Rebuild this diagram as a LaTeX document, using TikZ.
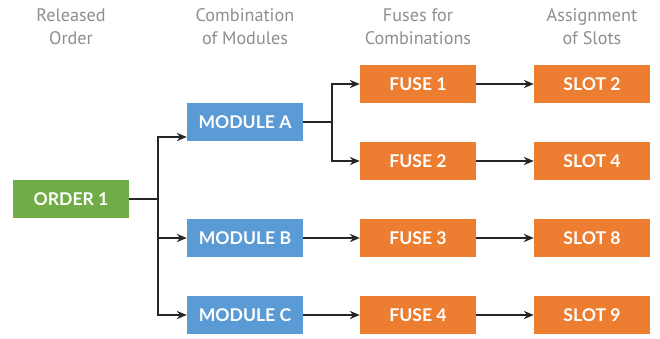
\documentclass[tikz,border=0pt]{standalone}
\usepackage{fontspec}
\setmainfont{Lato}
\newfontfamily\headfont{PT Sans}
\usetikzlibrary{arrows.meta}
\definecolor{ordgreen}{HTML}{70AD47}
\definecolor{modblue}{HTML}{5B9BD5}
\definecolor{fuseorange}{HTML}{ED7D31}
\definecolor{headgray}{HTML}{8E8E8E}
\tikzset{
  box/.style={minimum width=3.48cm, minimum height=1.14cm, inner sep=0pt, text=white, font=\fontsize{15}{18}\selectfont\bfseries},
  head/.style={align=center, text=headgray, font=\headfont\fontsize{15.5}{19.6}\selectfont},
  link/.style={draw=black!85, line width=1pt, -{Stealth[length=8.5pt,width=7pt]}}
}
\begin{document}
\begin{tikzpicture}[x=0.03cm, y=-0.03cm]
\useasboundingbox (0,0) rectangle (660,339);
\node[head] (h1) at (71,27){Released\\Order};
\node[head] (h2) at (245,27){Combination\\of Modules};
\node[head] (h3) at (418,27){Fuses for\\Combinations};
\node[head] (h4) at (592,27){Assignment\\of Slots};

\node[box, fill=ordgreen] (ord1) at (71,199){ORDER 1};
\node[box, fill=modblue] (moda) at (245,122){MODULE A};
\node[box, fill=modblue] (modb) at (245,238){MODULE B};
\node[box, fill=modblue] (modc) at (245,315){MODULE C};
\node[box, fill=fuseorange] (fuse1) at (418,84){FUSE 1};
\node[box, fill=fuseorange] (fuse2) at (418,161){FUSE 2};
\node[box, fill=fuseorange] (fuse3) at (418,238){FUSE 3};
\node[box, fill=fuseorange] (fuse4) at (418,315){FUSE 4};
\node[box, fill=fuseorange] (slot2) at (592,84){SLOT 2};
\node[box, fill=fuseorange] (slot4) at (592,161){SLOT 4};
\node[box, fill=fuseorange] (slot8) at (592,238){SLOT 8};
\node[box, fill=fuseorange] (slot9) at (592,315){SLOT 9};

\coordinate (obr) at (158,199);
\coordinate (abr) at (332,122);
\draw[link] (ord1.east) -- (obr) |- ([yshift=-0.45cm]moda.west);
\draw[link] (obr) |- (modb.west);
\draw[link] (obr) |- (modc.west);
\draw[link] (moda.east) -- (abr) |- (fuse1.west);
\draw[link] (abr) |- (fuse2.west);
\draw[link] (modb) -- (fuse3);
\draw[link] (modc) -- (fuse4);
\draw[link] (fuse1) -- (slot2);
\draw[link] (fuse2) -- (slot4);
\draw[link] (fuse3) -- (slot8);
\draw[link] (fuse4) -- (slot9);

\end{tikzpicture}
\end{document}
